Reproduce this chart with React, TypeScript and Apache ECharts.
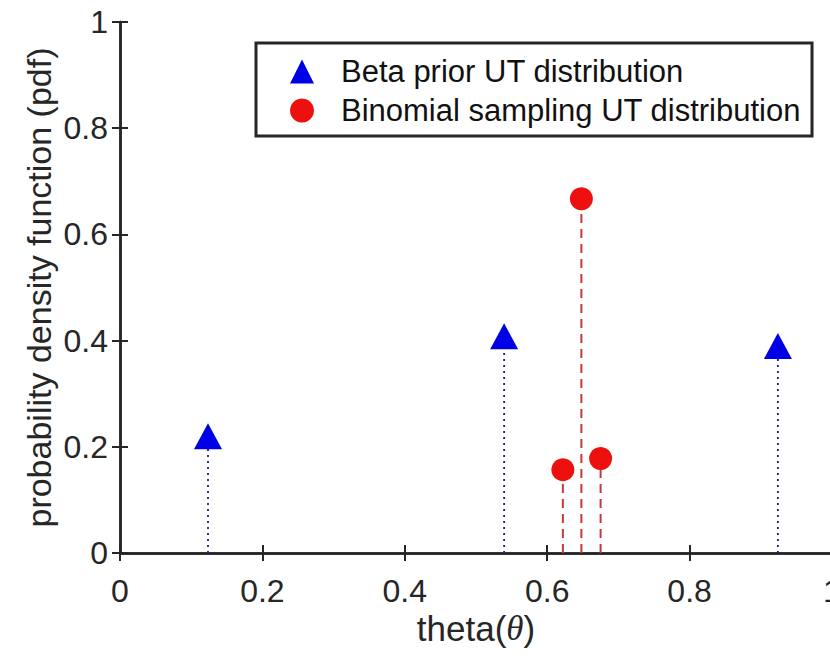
import React, { useEffect, useRef } from "react";
import * as echarts from "echarts";

const betaName = "Beta prior UT distribution";
const binomName = "Binomial sampling UT distribution";
const betaX = [0.1236, 0.5395, 0.924];
const betaY = [0.22, 0.408, 0.39];
const binomX = [0.622, 0.648, 0.675];
const binomY = [0.157, 0.667, 0.178];
const xTicks = [0, 0.2, 0.4, 0.6, 0.8, 1];
const yTicks = [0, 0.2, 0.4, 0.6, 0.8, 1];

const AX = "#262626";
const FONT = "Liberation Sans, Arial, Helvetica, sans-serif";

function stemRender(color: string, dash: number[], width: number) {
  return (params: any, api: any) => {
    const x = api.value(0);
    const y = api.value(1);
    const p0 = api.coord([x, 0]);
    const p1 = api.coord([x, y]);
    return {
      type: "line",
      shape: { x1: p0[0], y1: p0[1], x2: p1[0], y2: p1[1] },
      style: { stroke: color, lineWidth: width, lineDash: dash },
    };
  };
}

export default function App() {
  const ref = useRef<HTMLDivElement>(null);
  useEffect(() => {
    document.body.style.margin = "0";
    if (!ref.current) return;
    const chart = echarts.init(ref.current, undefined, { renderer: "svg" });
    const betaData = betaX.map((x, i) => [x, betaY[i]]);
    const binomData = binomX.map((x, i) => [x, binomY[i]]);
    const tickLabel = { color: AX, fontSize: 32, fontFamily: FONT };
    const fmt = (list: number[]) => (v: number) =>
      String(list.find((t) => Math.abs(t - v) < 1e-9) ?? v);
    chart.setOption({
      animation: false,
      backgroundColor: "#ffffff",
      grid: {
        left: 120,
        top: 22,
        width: 712,
        height: 531,
        containLabel: false,
        outerBoundsMode: "none",
      },
      legend: {
        data: [
          { name: betaName, icon: "triangle" },
          { name: binomName, icon: "circle" },
        ],
        orient: "vertical",
        left: 256,
        top: 43,
        padding: [13, 11, 10, 34],
        itemWidth: 24,
        itemHeight: 24,
        itemGap: 8,
        borderColor: AX,
        borderWidth: 3,
        backgroundColor: "#ffffff",
        textStyle: {
          color: "#111111",
          fontSize: 31,
          fontFamily: FONT,
          padding: [0, 0, 0, 22],
        },
        selectedMode: false,
      },
      xAxis: [
        {
          type: "value",
          min: 0,
          max: 1,
          interval: 0.2,
          position: "bottom",
          name: "{a|theta(}{b|θ}{a|)}",
          nameLocation: "middle",
          nameGap: 58,
          nameMoveOverlap: false,
          nameTextStyle: {
            rich: {
              a: { fontSize: 35, color: AX, fontFamily: FONT },
              b: {
                fontSize: 35,
                color: AX,
                fontFamily: "Liberation Serif, Times New Roman, serif",
                fontStyle: "italic",
              },
            },
          },
          axisLine: { show: true, lineStyle: { color: AX, width: 2.5 } },
          axisTick: { show: true, inside: true, length: 8, lineStyle: { color: AX, width: 2 } },
          axisLabel: { ...tickLabel, margin: 22, formatter: fmt(xTicks) },
          splitLine: { show: false },
        },
        {
          type: "value",
          min: 0,
          max: 1,
          interval: 0.2,
          position: "top",
          axisLine: { show: true, lineStyle: { color: AX, width: 2.5 } },
          axisTick: { show: true, inside: true, length: 8, lineStyle: { color: AX, width: 2 } },
          axisLabel: { show: false },
          splitLine: { show: false },
        },
      ],
      yAxis: [
        {
          type: "value",
          min: 0,
          max: 1,
          interval: 0.2,
          position: "left",
          name: "probability density function (pdf)",
          nameLocation: "middle",
          nameGap: 64,
          nameMoveOverlap: false,
          nameTextStyle: { color: AX, fontSize: 34, fontFamily: FONT },
          axisLine: { show: true, lineStyle: { color: AX, width: 2.5 } },
          axisTick: { show: true, inside: true, length: 8, lineStyle: { color: AX, width: 2 } },
          axisLabel: { ...tickLabel, margin: 12, formatter: fmt(yTicks) },
          splitLine: { show: false },
        },
        {
          type: "value",
          min: 0,
          max: 1,
          interval: 0.2,
          position: "right",
          axisLine: { show: true, lineStyle: { color: AX, width: 2.5 } },
          axisTick: { show: true, inside: true, length: 8, lineStyle: { color: AX, width: 2 } },
          axisLabel: { show: false },
          splitLine: { show: false },
        },
      ],
      series: [
        {
          type: "custom",
          name: "betaStem",
          xAxisIndex: 0,
          yAxisIndex: 0,
          renderItem: stemRender("#1a1a8a", [2, 4], 1.8),
          data: betaData,
          encode: { x: 0, y: 1 },
          z: 1,
          silent: true,
        },
        {
          type: "custom",
          name: "binomStem",
          xAxisIndex: 0,
          yAxisIndex: 0,
          renderItem: stemRender("#c43a3a", [9, 6], 2),
          data: binomData,
          encode: { x: 0, y: 1 },
          z: 1,
          silent: true,
        },
        {
          type: "scatter",
          name: betaName,
          xAxisIndex: 0,
          yAxisIndex: 0,
          symbol: "triangle",
          symbolSize: [28, 26],
          itemStyle: { color: "#0000e6", opacity: 1 },
          data: betaData,
          z: 3,
        },
        {
          type: "scatter",
          name: binomName,
          xAxisIndex: 0,
          yAxisIndex: 0,
          symbol: "circle",
          symbolSize: 23,
          itemStyle: { color: "#ee0f0f", opacity: 1 },
          data: binomData,
          z: 3,
        },
      ],
    });
    return () => chart.dispose();
  }, []);
  return <div ref={ref} style={{ width: 830, height: 657 }} />;
}
